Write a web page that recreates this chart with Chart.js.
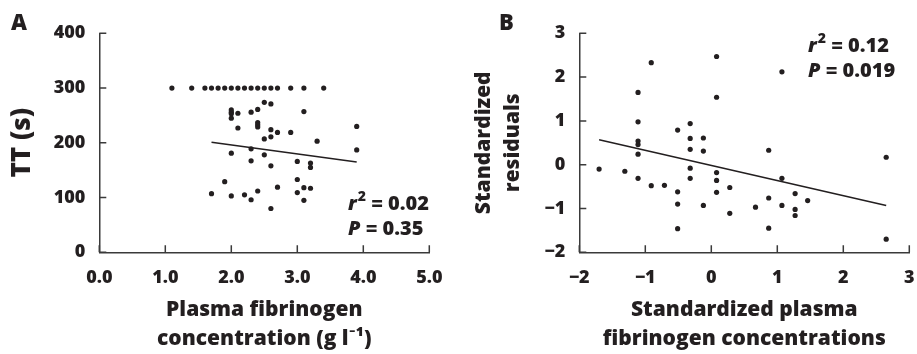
<!DOCTYPE html>
<html>
<head>
<meta charset="utf-8">
<script src="https://cdn.jsdelivr.net/npm/chart.js@4.4.1/dist/chart.umd.min.js"></script>
<style>
  body { margin: 0; background: #fff; }
  #page { position: relative; width: 917px; height: 354px; overflow: hidden; }
  #chartA { position: absolute; left: 0; top: 0; }
  #chartB { position: absolute; left: 460px; top: 0; }
</style>
</head>
<body>
<div id="page">
  <canvas id="chartA" width="460" height="354"></canvas>
  <canvas id="chartB" width="457" height="354"></canvas>
</div>
<script>
// Panel A: plasma fibrinogen (g/l) vs thrombin time (s)
const fibrinogenA = [1.1, 1.4, 1.6, 1.7, 1.8, 1.9, 2.0, 2.1, 2.2, 2.3, 2.4, 2.5, 2.6, 2.7, 2.9, 3.1, 3.4,
  2.0, 2.0, 2.0, 2.0, 2.1, 2.3, 2.4, 2.5, 2.6, 3.1,
  2.4, 2.4, 2.4, 2.1, 2.6, 2.7, 2.9, 3.9, 2.5, 2.6, 3.3, 2.3, 3.9, 2.0, 2.5,
  2.3, 3.0, 2.6, 3.2, 3.2, 3.0, 1.9, 3.1, 3.2, 2.7, 2.4, 1.7, 3.0, 2.0, 2.2, 2.3, 3.1, 2.6];
const ttA = [300, 300, 300, 300, 300, 300, 300, 300, 300, 300, 300, 300, 300, 300, 300, 300, 300,
  260, 256, 253, 245, 254, 256, 261, 274, 271, 257,
  237, 233, 229, 227, 224, 219, 219, 230, 207, 211, 203, 189, 187, 181, 178,
  167, 166, 158, 163, 155, 133, 129, 118, 117, 119, 112, 107, 109, 103, 105, 96, 95, 80];
const fitXA = [1.7, 3.9];
const fitYA = [201, 165];

// Panel B: standardized fibrinogen vs standardized residuals
const fibrinogenB = [-1.70, -1.31, -1.11, -1.11, -1.11, -1.11, -1.11, -1.11, -0.91, -0.91, -0.71,
  -0.51, -0.51, -0.51, -0.51, -0.32, -0.32, -0.32, -0.32, -0.32, -0.12, -0.12, -0.12,
  0.08, 0.08, 0.08, 0.08, 0.08, 0.28, 0.28, 0.67, 0.87, 0.87, 0.87, 1.07, 1.07, 1.07,
  1.27, 1.27, 1.27, 1.46, 2.65, 2.65];
const residualsB = [-0.10, -0.15, 1.65, 0.98, 0.54, 0.46, 0.24, -0.31, 2.33, -0.48, -0.47,
  0.79, -0.62, -0.90, -1.46, 0.94, 0.60, 0.35, -0.08, -0.31, 0.61, 0.31, -0.93,
  2.47, 1.54, -0.18, -0.36, -0.63, -0.52, -1.11, -0.97, 0.33, -0.76, -1.45, 2.12, -0.31, -0.93,
  -0.66, -1.02, -1.16, -0.82, 0.17, -1.70];
const fitXB = [-1.70, 2.65];
const fitYB = [0.57, -0.93];

const ink = "#231f20";
const axisColor = "#3a3a3a";
const family = "'Open Sans', Lato, sans-serif";
const heavy = "800";

function pairs(xs, ys) {
  return xs.map((x, i) => ({ x: x, y: ys[i] }));
}

function minus(v) {
  return String(v).replace("-", "\u2212");
}

// short tick marks pointing into the plot
const innerTicks = {
  id: "innerTicks",
  afterDraw(chart) {
    const ctx = chart.ctx;
    const area = chart.chartArea;
    const len = 7;
    ctx.save();
    ctx.strokeStyle = axisColor;
    ctx.lineWidth = 1.5;
    ctx.beginPath();
    chart.scales.x.ticks.forEach((t) => {
      const px = chart.scales.x.getPixelForValue(t.value);
      ctx.moveTo(px, area.bottom);
      ctx.lineTo(px, area.bottom - len);
    });
    chart.scales.y.ticks.forEach((t) => {
      const py = chart.scales.y.getPixelForValue(t.value);
      ctx.moveTo(area.left, py);
      ctx.lineTo(area.left + len, py);
    });
    ctx.stroke();
    ctx.restore();
  }
};

// text drawn on top: panel letter and the r2 / P lines
function notesPlugin(letter, letterX, statX, statY, r2, p) {
  return {
    id: "notes",
    afterDraw(chart) {
      const ctx = chart.ctx;
      ctx.save();
      ctx.fillStyle = ink;
      ctx.textBaseline = "alphabetic";
      ctx.textAlign = "left";
      ctx.font = heavy + " 22px " + family;
      ctx.fillText(letter, letterX, 30);

      let x = statX;
      ctx.font = "italic " + heavy + " 20px " + family;
      ctx.fillText("r", x, statY);
      x += ctx.measureText("r").width + 1;
      ctx.font = heavy + " 14px " + family;
      ctx.fillText("2", x, statY - 9);
      x += ctx.measureText("2").width;
      ctx.font = heavy + " 20px " + family;
      ctx.fillText(" = " + r2, x, statY);

      x = statX;
      ctx.font = "italic " + heavy + " 20px " + family;
      ctx.fillText("P", x, statY + 25);
      x += ctx.measureText("P").width;
      ctx.font = heavy + " 20px " + family;
      ctx.fillText(" = " + p, x, statY + 25);
      ctx.restore();
    }
  };
}

function makePanel(id, cfg) {
  return new Chart(document.getElementById(id), {
    type: "scatter",
    data: {
      datasets: [
        {
          data: pairs(cfg.xs, cfg.ys),
          pointRadius: 2.6,
          pointBackgroundColor: ink,
          pointBorderWidth: 0,
          showLine: false
        },
        {
          data: pairs(cfg.fitX, cfg.fitY),
          showLine: true,
          pointRadius: 0,
          borderColor: ink,
          borderWidth: 1.6
        }
      ]
    },
    options: {
      responsive: false,
      animation: false,
      devicePixelRatio: 1,
      layout: { padding: { left: 0, top: 33.3, right: cfg.padRight, bottom: 0 } },
      plugins: { legend: { display: false }, tooltip: { enabled: false } },
      scales: {
        x: {
          type: "linear",
          min: cfg.xMin,
          max: cfg.xMax,
          afterFit(scale) {
            scale.height = 101.7;
            scale.paddingLeft = 0;
            scale.paddingRight = 0;
          },
          ticks: {
            stepSize: 1,
            padding: 15,
            color: ink,
            font: { family: family, size: 18, weight: heavy },
            callback: cfg.xFormat
          },
          grid: { drawOnChartArea: false, drawTicks: false },
          border: { color: axisColor, width: 1.5 },
          title: {
            display: true,
            text: cfg.xTitle,
            color: ink,
            font: { family: family, size: 21, weight: heavy, lineHeight: 29 / 21 },
            padding: { top: 0, bottom: 0 }
          }
        },
        y: {
          min: cfg.yMin,
          max: cfg.yMax,
          afterFit(scale) {
            scale.width = cfg.yWidth;
            scale.paddingTop = 0;
            scale.paddingBottom = 0;
          },
          ticks: {
            stepSize: cfg.yStep,
            padding: 14,
            color: ink,
            font: { family: family, size: 18, weight: heavy },
            callback: minus
          },
          grid: { drawOnChartArea: false, drawTicks: false },
          border: { color: axisColor, width: 1.5 },
          title: {
            display: true,
            text: cfg.yTitle,
            color: ink,
            font: cfg.yTitleFont,
            padding: { top: cfg.yTitlePad, bottom: 0 }
          }
        }
      }
    },
    plugins: [innerTicks, notesPlugin(cfg.letter, cfg.letterX, cfg.statX, cfg.statY, cfg.r2, cfg.p)]
  });
}

makePanel("chartA", {
  xs: fibrinogenA, ys: ttA, fitX: fitXA, fitY: fitYA,
  xMin: 0, xMax: 5, yMin: 0, yMax: 400, yStep: 100,
  xFormat: (v) => Number(v).toFixed(1),
  xTitle: ["Plasma fibrinogen", "concentration (g l\u207B\u00B9)"],
  yTitle: "TT (s)",
  yTitleFont: { family: family, size: 26, weight: heavy, lineHeight: 1.2 },
  yTitlePad: 7,
  yWidth: 99.3,
  padRight: 30.7,
  letter: "A", letterX: 11, statX: 348, statY: 210, r2: "0.02", p: "0.35"
});

makePanel("chartB", {
  xs: fibrinogenB, ys: residualsB, fitX: fitXB, fitY: fitYB,
  xMin: -2, xMax: 3, yMin: -2, yMax: 3, yStep: 1,
  xFormat: minus,
  xTitle: ["Standardized plasma", "fibrinogen concentrations"],
  yTitle: ["Standardized", "residuals"],
  yTitleFont: { family: family, size: 21, weight: heavy, lineHeight: 29 / 21 },
  yTitlePad: 9.5,
  yWidth: 119.3,
  padRight: 7.7,
  letter: "B", letterX: 39, statX: 348, statY: 52, r2: "0.12", p: "0.019"
});
</script>
</body>
</html>
